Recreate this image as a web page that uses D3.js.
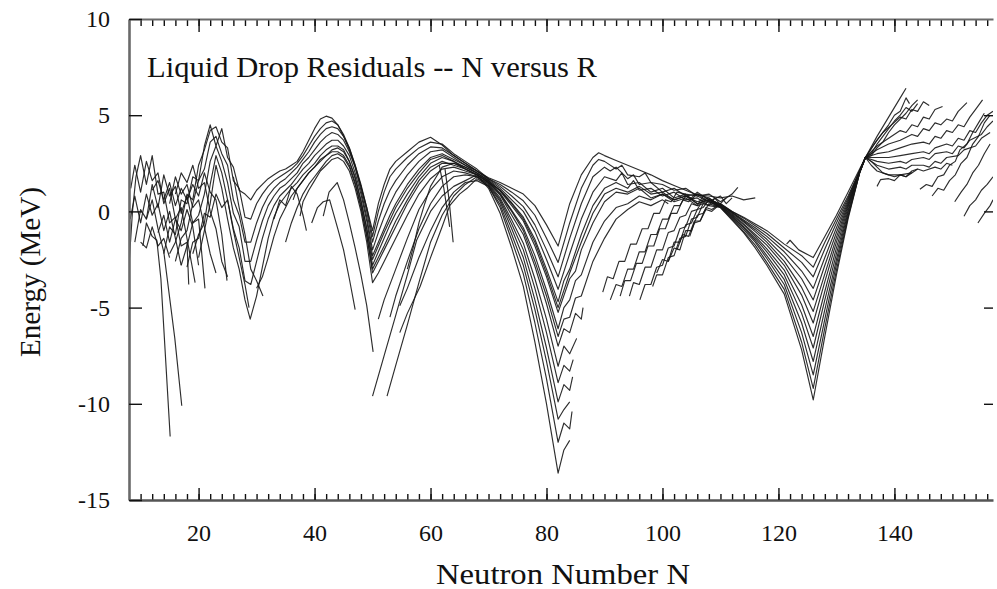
<!DOCTYPE html>
<html><head><meta charset="utf-8">
<script src="https://cdn.jsdelivr.net/npm/d3@7"></script>
<style>body{margin:0;background:#fff}svg{display:block}</style>
</head><body>
<svg id="c" width="997" height="589"></svg>
<script>
const xDomain=[8,157], yDomain=[-15,10];
const xTickLabels=[20,40,60,80,100,120,140];
const yTickLabels=[-15,-10,-5,0,5,10];
const titleText="Liquid Drop Residuals -- N versus R";
const xTitle="Neutron Number N", yTitle="Energy (MeV)";

// light nuclei chains (N 8-31)
const lightChains=[
[[8,-2.8],[8.6,0.0],[9.2,1.8],[10,2.9],[11,1.4],[12,2.9],[13,0.9],[14,1.0],[15,-0.6],[16,-0.3],[17,-1.8],[18,-1.6],[18.3,-3.8]],
[[8.3,1.2],[9,2.4],[10,1.0],[11,2.6],[12,1.6],[13,2.0],[14,0.4],[15,1.2],[16,-0.4],[17,0.2],[18,-1.4],[19.4,-3.7]],
[[9,-1.6],[10,0.1],[11,-0.4],[12,1.4],[13,0.2],[14,1.9],[15,0.8],[16,1.3],[17,-0.1],[18,0.8],[19,-0.6],[20,-0.4],[21.1,-4.0]],
[[10.4,-1.8],[11,-0.6],[12,-1.3],[12.8,-1.5],[13.5,-3.5],[15.1,-11.7]],
[[11,-0.4],[12,0.6],[13,-0.9],[14,-2.1],[15.9,-6.6],[17.1,-10.1]],
[[12,1.1],[13,1.6],[14,0.6],[15,1.5],[16,0.3],[17,1.2],[18,0.6],[19,1.4],[20,0.8],[21,2.0],[22,1.0],[23,0.6],[24,-1.2],[24.9,-3.6]],
[[13,-1.1],[14,-0.2],[15,-1.6],[16,-0.4],[17,-1.0],[18,0.1],[19,-0.8],[20,-2.8]],
[[8.2,-0.4],[9,0.8],[10,-0.6],[11,0.9],[12,-0.2],[13,0.4],[14,-1.0],[15,0.0],[16,-1.4],[17,-2.8]],
[[15,0.4],[16,1.8],[17,0.9],[18,1.4],[19,0.2],[20,0.6],[21,-0.8],[22,-2.2],[23,-3.2]],
[[26,1.8],[27,0.2],[28,-1.2],[29,-3.0],[30,-3.6],[31.1,-4.4]],
[[10,-1.6],[11,-1.9],[12,-0.8],[13,-1.8],[14,-1.4],[15,-2.4]],
[[16,0.9],[17,2.0],[18,1.5],[19,2.4],[20,1.2],[21,1.5],[22,0.0],[23,-0.9],[24,-2.6],[25,-3.4]],
[[18,-2.9],[19,-1.6],[20,-1.4],[21,-0.1],[22,-0.3],[23,0.9],[24,0.2],[25,0.6],[26,-1.0],[27,-2.4],[28,-3.8],[28.7,-5.0]]
];

// chains crossing the N=28, 50 and 82 shells
const shellChains=[
[[14,-2.2],[15,-0.8],[16,-1.2],[17,0.6],[18,0.4],[19,1.8],[20,1.6],[21,3.4],[22,4.5],[23,3.4],[24,4.3],[25,2.8],[26,2.3],[27,1.1],[28,0.9],[29,0.6],[30,1.1],[31,1.4],[32,1.7],[33,1.9],[34,2.1],[35,2.2],[36,2.4],[37,2.6],[38,3.1],[39,3.7],[40,4.3],[41,4.8],[42,4.95],[43,4.85],[44,4.5],[45,3.9],[46,3.2],[47,2.3],[48,1.3],[49,0.2],[50,-1.0],[51,0.4],[52,1.4],[53,2.2],[54,2.6],[56,3.1],[58,3.6],[60,3.85],[62,3.45],[64,2.9],[66,2.5],[68,2.1],[70,1.75],[72,1.5],[74,1.2],[76,0.9],[78,0.3],[80,-0.7],[82,-1.8],[84,0.4],[86,1.9],[88,2.8],[89,3.05],[90,2.9],[92,2.65],[94,2.4],[96,2.15],[98,1.9],[100,1.6],[102,1.35],[104,1.1],[106,0.85],[108,0.8],[110,0.7],[112,0.8],[114,0.6],[116,0.7]],
[[15,-2.2],[16,-1.6],[17,-0.6],[18,0.9],[19,0.6],[20,2.4],[21,3.2],[22,4.2],[23,4.4],[24,3.6],[25,3.3],[26,1.6],[27,1.2],[28,-0.3],[29,-0.4],[30,0.4],[31,0.9],[32,1.3],[33,1.6],[34,1.8],[35,2.0],[36,2.2],[37,2.5],[38,2.9],[39,3.4],[40,3.9],[41,4.3],[42,4.6],[43,4.7],[44,4.5],[45,4.0],[46,3.3],[47,2.4],[48,1.4],[49,0.2],[50,-1.3],[51,0.0],[52,1.0],[53,1.8],[54,2.2],[56,2.8],[58,3.3],[60,3.6],[62,3.5],[64,3.0],[66,2.6],[68,2.2],[70,1.7],[72,1.4],[74,1.0],[76,0.55],[78,-0.2],[80,-1.4],[82,-2.65],[84,-0.6],[86,1.2],[88,2.4],[89,2.7],[90,2.6],[92,2.2],[93,2.4],[94,1.9],[96,1.8],[97,2.0],[98,1.5],[100,1.4],[102,1.1],[104,1.2],[106,0.8],[108,0.9],[110,0.5],[112,0.9],[113,1.25]],
[[16,-2.6],[17,-1.4],[18,-1.0],[19,0.4],[20,1.6],[21,2.2],[22,3.6],[23,3.9],[24,3.0],[25,2.4],[26,0.6],[27,-0.2],[28,-1.6],[29,-1.6],[30,-0.6],[31,0.2],[32,0.8],[33,1.2],[34,1.5],[35,1.7],[36,2.0],[37,2.3],[38,2.7],[39,3.1],[40,3.6],[41,4.0],[42,4.3],[43,4.4],[44,4.3],[45,3.9],[46,3.3],[47,2.4],[48,1.3],[49,0.0],[50,-1.6],[51,-0.5],[52,0.4],[53,1.1],[54,1.6],[56,2.4],[58,3.0],[60,3.35],[62,3.3],[64,2.9],[66,2.5],[68,2.1],[70,1.7],[72,1.3],[74,0.8],[76,0.25],[78,-0.7],[80,-2.0],[82,-3.4],[84,-1.4],[86,0.4],[88,1.8],[90,2.3],[91,2.1],[92,2.3],[94,1.7],[95,1.9],[96,1.4],[98,1.5],[100,1.0],[102,1.2],[104,0.8],[106,0.9],[108,0.5],[110,0.8],[111,0.4],[112,0.7]],
[[17,-2.8],[18,-1.8],[19,-0.6],[20,-0.2],[21,0.9],[22,2.6],[23,3.4],[24,2.6],[25,1.5],[26,-0.1],[27,-0.8],[28,-2.6],[29,-2.6],[30,-1.5],[31,-0.5],[32,0.3],[33,0.8],[34,1.2],[35,1.4],[36,1.7],[37,2.0],[38,2.5],[39,2.8],[40,3.2],[41,3.6],[42,3.9],[43,4.1],[44,4.0],[45,3.7],[46,3.1],[47,2.3],[48,1.1],[49,-0.3],[50,-2.0],[51,-1.1],[52,-0.3],[53,0.4],[54,1.0],[56,1.9],[58,2.6],[60,3.1],[62,3.2],[64,2.8],[66,2.4],[68,2.1],[70,1.65],[72,1.2],[74,0.6],[76,0.0],[78,-1.05],[80,-2.5],[82,-4.05],[84,-2.2],[86,-0.4],[88,1.0],[90,1.8],[92,1.6],[93,2.0],[94,1.4],[96,1.5],[98,1.0],[100,1.2],[102,0.7],[104,0.9],[106,0.4],[108,0.6],[110,0.2],[112,-0.4],[114,-1.05],[116,-1.75],[118,-2.65],[121,-4.05],[124,-6.8],[126,-9.2],[128,-6.05],[130,-3.05],[132,-0.3],[134,2.0],[135,2.8]],
[[19,-2.2],[20,-1.2],[21,-0.6],[22,1.4],[23,2.9],[24,2.0],[25,0.6],[26,-0.9],[27,-1.9],[28,-3.6],[29,-3.8],[30,-2.6],[31,-1.4],[32,-0.4],[33,0.3],[34,0.8],[35,1.1],[36,1.4],[37,1.8],[38,2.2],[39,2.5],[40,2.9],[41,3.2],[42,3.5],[43,3.7],[44,3.7],[45,3.4],[46,2.9],[47,2.0],[48,0.9],[49,-0.5],[50,-2.3],[51,-1.6],[52,-0.9],[53,-0.2],[54,0.4],[56,1.4],[58,2.2],[60,2.8],[62,3.0],[64,2.7],[66,2.4],[68,2.0],[70,1.6],[72,1.1],[74,0.45],[76,-0.3],[78,-1.45],[80,-3.0],[82,-4.7],[83,-3.6],[84,-3.0],[86,-1.2],[88,0.3],[90,1.2],[92,1.5],[94,1.2],[95,1.6],[96,1.1],[98,1.2],[100,0.8],[102,1.0],[104,0.6],[106,0.7],[108,0.3],[110,0.2],[112,-0.45],[114,-1.1],[116,-1.9],[118,-2.8],[121,-4.3],[124,-7.2],[126,-9.8],[128,-6.5],[130,-3.3],[132,-0.4],[134,2.0],[135,2.8]],
[[20,-2.4],[21,-1.0],[22,0.4],[23,2.4],[24,1.2],[25,-0.4],[26,-1.9],[27,-3.0],[28,-4.6],[28.9,-5.6],[30,-4.4],[31,-2.9],[32,-1.4],[33,-0.3],[34,0.4],[35,0.8],[36,1.2],[37,1.5],[38,1.9],[39,2.2],[40,2.5],[41,2.9],[42,3.2],[43,3.4],[44,3.4],[45,3.2],[46,2.6],[47,1.8],[48,0.6],[49,-0.9],[50,-2.8],[51,-2.1],[52,-1.4],[53,-0.7],[54,-0.1],[56,0.9],[58,1.8],[60,2.5],[62,2.8],[64,2.6],[66,2.3],[68,2.0],[70,1.6],[72,1.05],[74,0.3],[76,-0.5],[78,-1.8],[80,-3.4],[82,-5.25],[84,-3.5],[85,-3.1],[86,-2.0],[88,-0.6],[90,0.5],[92,1.0],[94,0.9],[96,1.2],[98,0.7],[100,0.9],[102,0.5],[104,0.7],[106,0.3],[108,0.5],[110,0.2]],
[[30,-4.0],[31,-3.4],[32,-2.4],[33,-1.3],[34,-0.4],[35,0.2],[36,0.8],[37,1.2],[38,1.6],[39,2.0],[40,2.3],[41,2.6],[42,2.9],[43,3.2],[44,3.3],[45,3.1],[46,2.6],[47,1.7],[48,0.5],[49,-0.9],[50,-2.5],[51,-1.8],[52,-1.1],[54,0.2],[56,1.2],[58,2.0],[60,2.7],[62,2.9],[64,2.6],[66,2.2],[68,1.9],[70,1.5],[72,1.1],[74,0.4],[76,-0.4],[78,-1.6],[80,-3.2],[82,-5.0],[84,-3.2],[86,-1.6],[88,-0.1],[90,0.9],[92,1.2],[94,1.0],[96,1.3],[98,0.9],[100,1.0],[102,0.6],[104,0.8],[106,0.5],[108,0.7],[110,0.3]],
[[35,-1.6],[36,-0.6],[37,0.2],[38,0.9],[39,1.4],[40,1.8],[41,2.2],[42,2.6],[43,2.9],[44,3.0],[45,2.8],[46,2.3],[47,1.4],[48,0.2],[49,-1.3],[50,-3.0],[51,-2.4],[52,-1.8],[54,-0.5],[56,0.6],[58,1.6],[60,2.3],[62,2.6],[64,2.4],[66,2.2],[68,1.9],[70,1.5],[72,0.9],[74,0.0],[76,-1.0],[78,-2.6],[80,-4.4],[82,-6.5],[83,-5.6],[84,-5.5],[85,-4.5],[86,-4.4],[88,-2.6],[90,-1.4],[92,-0.4],[94,0.1],[96,0.5],[98,0.3],[100,0.6],[101,0.4]],
[[36.3,0.6],[37,1.2],[38,1.6],[39,2.0],[40,2.3],[41,2.7],[42,2.9],[43,3.1],[44,3.1],[45,2.9],[46,2.4],[47,1.5],[48,0.3],[49,-1.2],[50,-3.2],[51,-2.6],[52,-2.0],[54,-0.8],[56,0.4],[58,1.4],[60,2.1],[62,2.5],[64,2.5],[66,2.2],[68,1.9],[70,1.55],[72,0.95],[74,0.05],[76,-0.85],[78,-2.3],[80,-4.1],[82,-6.1],[83,-5.0],[84,-4.6],[85,-3.6],[86,-3.3],[88,-1.6],[90,-0.5],[92,0.2],[94,0.4],[96,0.8],[98,0.6],[100,0.9],[102,0.6],[104,0.8],[106,0.4],[108,0.6],[110,0.4],[111,0.7]],
[[37.5,-0.25],[38,0.5],[39,1.1],[40,1.6],[41,2.1],[42,2.4],[43,2.7],[44,2.8],[45,2.6],[46,2.1],[47,1.2],[48,0.0],[49,-1.6],[50,-3.7],[51,-3.2],[52,-2.6],[54,-1.4],[56,-0.2],[58,0.9],[60,1.7],[62,2.2],[64,2.3],[66,2.1],[68,1.9],[70,1.5],[72,0.85],[74,-0.2],[76,-1.2],[78,-2.85],[80,-4.8],[82,-7.0],[83,-6.1],[84,-6.3],[85,-5.3],[86,-5.6],[86.3,-5.0]],
[[41.5,-0.25],[42.5,1.0],[43.9,1.5],[45,0.6],[46,-0.6],[47,-1.9],[48,-3.3],[49,-4.9],[50.1,-7.3]],
[[39.5,-0.6],[40.5,0.2],[41.5,0.5],[42.6,0.6],[44,-0.9],[45,-2.0],[46,-3.5],[47,-5.1]],
[[33,-0.4],[34,0.6],[35,0.3],[36,1.3],[37,0.9],[38,-0.2],[38.6,-1.0]]
];

// chains starting past N=50 and dropping into the N=82 valley
const midChains=[
[[51,-5.6],[52,-4.6],[54,-3.0],[56,-1.4],[58,0.1],[60,1.1],[62,1.8],[64,2.1],[66,2.0],[68,1.8],[70,1.45],[72,0.7],[74,-0.45],[76,-1.65],[78,-3.5],[80,-5.6],[82,-8.05],[83,-7.0],[84,-7.4],[85.2,-6.6]],
[[53,-5.5],[54,-4.4],[56,-2.6],[58,-0.9],[60,0.4],[62,1.3],[64,1.8],[66,1.9],[68,1.8],[70,1.4],[72,0.6],[74,-0.65],[76,-2.0],[78,-4.0],[80,-6.3],[82,-8.9],[83,-8.0],[84,-8.3],[84.6,-7.7]],
[[54.7,-6.3],[56,-5.3],[58.2,-3.9],[60,-2.4],[62,-0.8],[63.3,0.3],[65,0.9],[66.3,1.2],[68,1.7],[70,1.35],[72,0.5],[74,-0.9],[76,-2.4],[78,-4.6],[80,-7.1],[82,-9.9],[83,-9.0],[84,-9.3],[84.5,-8.6]],
[[54.7,-4.9],[56,-4.0],[58,-2.4],[60,-1.0],[62,0.2],[64,1.0],[66,1.5],[68,1.6],[70,1.3],[72,0.35],[74,-1.2],[76,-2.8],[78,-5.1],[80,-7.8],[82,-10.8],[83,-10.3],[84,-9.9]],
[[52.5,-9.6],[54,-8.0],[56,-5.9],[58,-3.7],[60,-1.6],[62,-0.2],[64,0.8],[66,1.4],[68,1.8],[70,1.3],[72,0.2],[74,-1.5],[76,-3.25],[78,-5.8],[80,-8.7],[82,-12.0],[83,-11.0],[84,-11.3],[84.4,-10.4]],
[[50,-9.6],[52,-7.5],[54,-5.4],[56,-3.3],[57.6,-1.5],[60,0.0],[62,0.8],[64,1.3],[66,1.6],[68,1.9],[70,1.2],[72,-0.1],[74,-1.9],[76,-3.9],[78,-6.8],[80,-10.0],[82,-13.6],[83,-12.4],[84,-11.9]],
[[61.5,2.4],[62.3,1.2],[63.3,-0.8]],
[[62.5,2.2],[63.2,0.6],[63.9,-1.6]],
[[56,-3.0],[57,-1.9],[58,-0.6],[59,0.4],[60,1.3],[61,1.8],[62,2.3],[64,2.5],[66,2.3],[68,2.0],[70,1.6]]
];

// heavy chains rising onto the plateau and through the N=126 valley
const heavyChains=[
[[121.4,-1.7],[122,-1.5],[123.5,-2.0],[126,-2.4],[128,-1.3],[130,-0.2],[132,1.0],[134,2.2],[135,2.8]],
[[104.7,-1.3],[105.5,-0.6],[106.5,-0.5],[107.5,0.1],[108.5,0.0],[110,0.4],[112,0.0],[114,-0.3],[116,-0.65],[118,-1.0],[121,-1.7],[124,-2.3],[126,-2.9],[128,-1.6],[130,-0.4],[132,0.8],[134,2.1],[135,2.8]],
[[102.5,-2.0],[103.5,-1.2],[104.5,-1.3],[105.5,-0.5],[106.5,-0.5],[107.5,0.2],[108.5,0.1],[110,0.4],[112,0.0],[114,-0.35],[116,-0.75],[118,-1.15],[121,-1.9],[124,-2.65],[126,-3.4],[128,-1.95],[130,-0.6],[132,0.7],[134,2.1],[135,2.8]],
[[101,-2.6],[102,-1.9],[103,-2.0],[104,-1.0],[105,-1.0],[106,-0.2],[107,-0.1],[108,0.4],[109,0.3],[110,0.35],[112,-0.05],[114,-0.45],[116,-0.85],[118,-1.3],[121,-2.1],[124,-3.1],[126,-4.0],[128,-2.4],[130,-0.85],[132,0.6],[134,2.1],[135,2.8]],
[[99,-3.2],[100,-2.5],[101,-2.6],[102,-1.6],[103,-1.6],[104,-0.7],[105,-0.6],[106,0.1],[107,0.2],[108,0.6],[109,0.5],[110,0.35],[112,-0.05],[114,-0.5],[116,-0.95],[118,-1.45],[121,-2.35],[124,-3.5],[126,-4.6],[128,-2.8],[130,-1.1],[132,0.5],[134,2.1],[135,2.8]],
[[98.3,-3.9],[99,-3.3],[100,-3.3],[101,-2.4],[102,-2.3],[103,-1.4],[104,-1.3],[105,-0.4],[106,-0.3],[107,0.4],[108,0.3],[109,0.7],[110,0.35],[112,-0.1],[114,-0.55],[116,-1.05],[118,-1.6],[121,-2.6],[124,-3.95],[126,-5.2],[128,-3.25],[130,-1.35],[132,0.4],[134,2.05],[135,2.8]],
[[96.1,-4.6],[97,-3.8],[98,-3.8],[99,-2.9],[100,-2.8],[101,-1.9],[102,-1.8],[103,-0.9],[104,-0.8],[105,0.0],[106,0.1],[107,0.6],[108,0.5],[110,0.3],[112,-0.15],[114,-0.65],[116,-1.2],[118,-1.75],[121,-2.8],[124,-4.35],[126,-5.8],[128,-3.65],[130,-1.6],[132,0.3],[134,2.05],[135,2.8]],
[[94.3,-4.4],[95,-3.7],[96,-3.8],[97,-2.9],[98,-2.9],[99,-2.0],[100,-2.0],[101,-1.1],[102,-1.0],[103,-0.3],[104,-0.2],[105,0.4],[106,0.3],[107,0.8],[108,0.6],[110,0.3],[112,-0.2],[114,-0.7],[116,-1.3],[118,-1.95],[121,-3.05],[124,-4.85],[126,-6.5],[128,-4.15],[130,-1.9],[132,0.2],[134,2.05],[135,2.8]],
[[92.7,-4.4],[93.5,-3.6],[94.5,-3.6],[95.5,-2.7],[96.5,-2.7],[97.5,-1.8],[98.5,-1.8],[99.5,-0.9],[100.5,-0.9],[101.5,-0.1],[102.5,-0.1],[103.5,0.6],[104.5,0.5],[106,0.9],[108,0.7],[110,0.3],[112,-0.25],[114,-0.8],[116,-1.4],[118,-2.1],[121,-3.3],[124,-5.3],[126,-7.1],[128,-4.6],[130,-2.2],[132,0.05],[134,2.05],[135,2.8]],
[[91,-4.6],[92,-3.8],[93,-3.9],[94,-3.0],[95,-3.0],[96,-2.1],[97,-2.1],[98,-1.2],[99,-1.2],[100,-0.4],[101,-0.4],[102,0.3],[103,0.3],[104,0.8],[105,0.7],[106,1.0],[108,0.6],[110,0.25],[112,-0.3],[114,-0.85],[116,-1.5],[118,-2.3],[121,-3.55],[124,-5.8],[126,-7.8],[128,-5.1],[130,-2.5],[132,-0.05],[134,2.0],[135,2.8]],
[[89.7,-4.2],[90.5,-3.4],[91.5,-3.5],[92.5,-2.6],[93.5,-2.6],[94.5,-1.7],[95.5,-1.7],[96.5,-0.9],[97.5,-0.9],[98.5,-0.1],[99.5,-0.1],[100.5,0.6],[101.5,0.5],[102.5,1.0],[104,0.9],[106,0.8],[108,0.5],[110,0.25],[112,-0.35],[114,-0.95],[116,-1.6],[118,-2.45],[121,-3.8],[124,-6.3],[126,-8.5],[128,-5.6],[130,-2.75],[132,-0.2],[134,2.0],[135,2.8]]
];

// fan beyond the crossing near N=135
const fanPaths=[
[[135,2.8],[137,3.9],[139,4.9],[141,5.9],[142,6.4]],
[[135,2.8],[137,3.7],[139,4.5],[140,5.0],[141,5.2],[142,5.9],[142.6,5.6]],
[[135,2.8],[136.5,3.5],[138,4.1],[139.5,4.5],[141,4.9],[142,4.8],[143,5.3],[144,5.2],[145,5.7],[146,5.5]],
[[135,2.8],[137,3.4],[139,3.8],[141,4.2],[142,4.1],[143,4.5],[144,4.4],[145,4.9],[146,4.8],[147,5.3],[148.3,5.45]],
[[135,2.8],[137,3.2],[139,3.5],[141,3.7],[143,4.0],[144,3.9],[145,4.3],[146,4.2],[147,4.6],[148,4.5],[149,4.8],[150,4.7],[151,5.2],[152.5,5.65]],
[[135,2.8],[137,3.0],[139,3.1],[141,3.3],[143,3.5],[145,3.6],[146,3.5],[147,3.9],[148,3.8],[149,4.2],[150,4.1],[151,4.5],[152,4.4],[153,4.9],[154,5.3],[155.2,5.8]],
[[135,2.8],[137,2.8],[139,2.8],[141,2.9],[143,3.0],[145,3.1],[146,3.0],[147,3.3],[149,3.5],[150,3.4],[151,3.8],[152,3.7],[153,4.2],[154,4.1],[155,4.6],[156,5.0],[157,5.2]],
[[135,2.8],[137,2.6],[139,2.5],[141,2.6],[142,2.5],[143,2.7],[145,2.8],[146,2.7],[147,3.0],[149,3.1],[150,3.0],[151,3.4],[152,3.3],[153,3.7],[155,4.0],[156,4.4],[157,4.7]],
[[135,2.8],[137,2.4],[139,2.2],[141,2.3],[142,2.2],[143,2.4],[145,2.4],[146,2.3],[147,2.6],[148,2.5],[149,2.8],[151,2.9],[152,3.2],[154,3.4],[155,3.8],[156.5,4.1]],
[[135,2.8],[136,2.4],[137,2.1],[139,1.9],[141,1.9],[143,2.0],[144,2.2],[145,2.1],[147,2.3],[148,2.2],[149,2.5],[150,2.4]],
[[135,2.8],[136,2.9],[137,3.3],[138,3.6],[139,4.1],[140,4.5],[141,4.8],[142,5.1],[143,5.5],[144,5.8]],
[[135,2.8],[136,3.0],[137,3.5],[138,3.9],[139,4.3],[140,4.7],[141,5.0],[142,5.4],[143,5.2],[144,5.6]],
[[135,2.8],[136,2.6],[137,2.3],[138,2.0],[139,1.9],[140,1.8],[141,1.9],[142,1.8],[143,2.0]]
];

// short chains starting low at the right edge
const fanStarts=[
[[137,1.3],[137.6,1.65],[139,1.7],[140,1.6],[141,1.9],[142,1.8],[143,2.1],[144,2.2]],
[[144.4,1.15],[145.5,1.4],[146.5,1.3],[147.5,1.8],[148.5,1.9],[149.5,2.4],[150.5,2.6],[151.3,3.2],[152.5,3.5],[153.5,4.1],[154.5,4.6],[155.5,5.1]],
[[146.5,0.8],[147.5,1.2],[148.5,1.1],[149.5,1.6],[150.5,1.9],[151.5,2.5],[152.5,2.8],[153.5,3.5],[154.5,3.9],[155.5,4.6],[156.5,5.0]],
[[150.4,0.5],[151.5,1.0],[152.5,1.4],[153.5,2.0],[154.5,2.4],[155.5,3.0],[156.5,3.5]],
[[152,-0.25],[153,0.3],[154,0.6],[155,1.1],[156,1.4],[157,1.8]],
[[154.4,-0.6],[155.5,-0.1],[156.5,0.3],[157,0.6]]
];

const m={l:129,r:993,t:19,b:500};
const svg=d3.select("#c");
const x=d3.scaleLinear().domain(xDomain).range([m.l,m.r]);
const y=d3.scaleLinear().domain(yDomain).range([m.b,m.t]);
const FONT="'Liberation Serif','Times New Roman',serif";
const fmt=d=>String(d);

svg.append("defs").append("clipPath").attr("id","clip")
  .append("rect").attr("x",m.l).attr("y",m.t).attr("width",m.r-m.l).attr("height",m.b-m.t);

const line=d3.line().x(d=>x(d[0])).y(d=>y(d[1]));
const gLines=svg.append("g").attr("clip-path","url(#clip)");
[lightChains,shellChains,midChains,heavyChains,fanPaths,fanStarts].forEach(set=>{
  gLines.selectAll(null).data(set).enter().append("path")
    .attr("d",line).attr("fill","none").attr("stroke","#161616")
    .attr("stroke-width",1.15).attr("stroke-linejoin","round").attr("stroke-opacity",0.9);
});

// minor ticks
const minorX=d3.range(10,157,2);
svg.append("g").attr("transform",`translate(0,${m.b})`)
  .call(d3.axisBottom(x).tickValues(minorX).tickSize(-6).tickFormat(""))
  .call(g=>g.select(".domain").remove());
svg.append("g").attr("transform",`translate(0,${m.t})`)
  .call(d3.axisTop(x).tickValues(minorX).tickSize(-7).tickFormat(""))
  .call(g=>g.select(".domain").remove());
svg.append("g").attr("transform",`translate(0,${m.t})`)
  .call(d3.axisTop(x).tickValues(xTickLabels).tickSize(-13).tickSizeOuter(0).tickFormat(""))
  .call(g=>g.select(".domain").attr("stroke","#6a6a6a").attr("stroke-width",2.2));
svg.append("g").attr("transform",`translate(${m.r},0)`)
  .call(d3.axisRight(y).tickValues(yTickLabels.filter(v=>v>-15&&v<10)).tickSize(-9).tickFormat(""))
  .call(g=>g.select(".domain").remove());

const xAxis=svg.append("g").attr("transform",`translate(0,${m.b})`)
  .call(d3.axisBottom(x).tickValues(xTickLabels).tickSize(-12).tickSizeOuter(0).tickPadding(24).tickFormat(fmt));
xAxis.select(".domain").attr("stroke","#555").attr("stroke-width",2.6);
xAxis.selectAll("text").attr("font-family",FONT).attr("font-size",24).attr("fill","#111");

const yAxis=svg.append("g").attr("transform",`translate(${m.l},0)`)
  .call(d3.axisLeft(y).tickValues(yTickLabels).tickSize(-13).tickSizeOuter(0).tickPadding(19).tickFormat(fmt));
yAxis.select(".domain").attr("stroke","#6a6a6a").attr("stroke-width",2.6);
yAxis.selectAll("text").attr("font-family",FONT).attr("font-size",24).attr("fill","#111");

svg.selectAll(".tick line").attr("stroke","#111").attr("stroke-width",1.4);

svg.append("text").attr("x",147).attr("y",77).attr("font-family",FONT).attr("font-size",30)
  .attr("textLength",450).attr("lengthAdjust","spacingAndGlyphs").attr("fill","#111").text(titleText);
svg.append("text").attr("x",(m.l+m.r)/2+2).attr("y",584).attr("text-anchor","middle")
  .attr("font-family",FONT).attr("font-size",30).attr("textLength",254).attr("lengthAdjust","spacingAndGlyphs")
  .attr("fill","#111").text(xTitle);
svg.append("text").attr("transform","translate(40,272) rotate(-90)").attr("text-anchor","middle")
  .attr("font-family",FONT).attr("font-size",30).attr("textLength",170).attr("lengthAdjust","spacingAndGlyphs")
  .attr("fill","#111").text(yTitle);
</script>
</body></html>
